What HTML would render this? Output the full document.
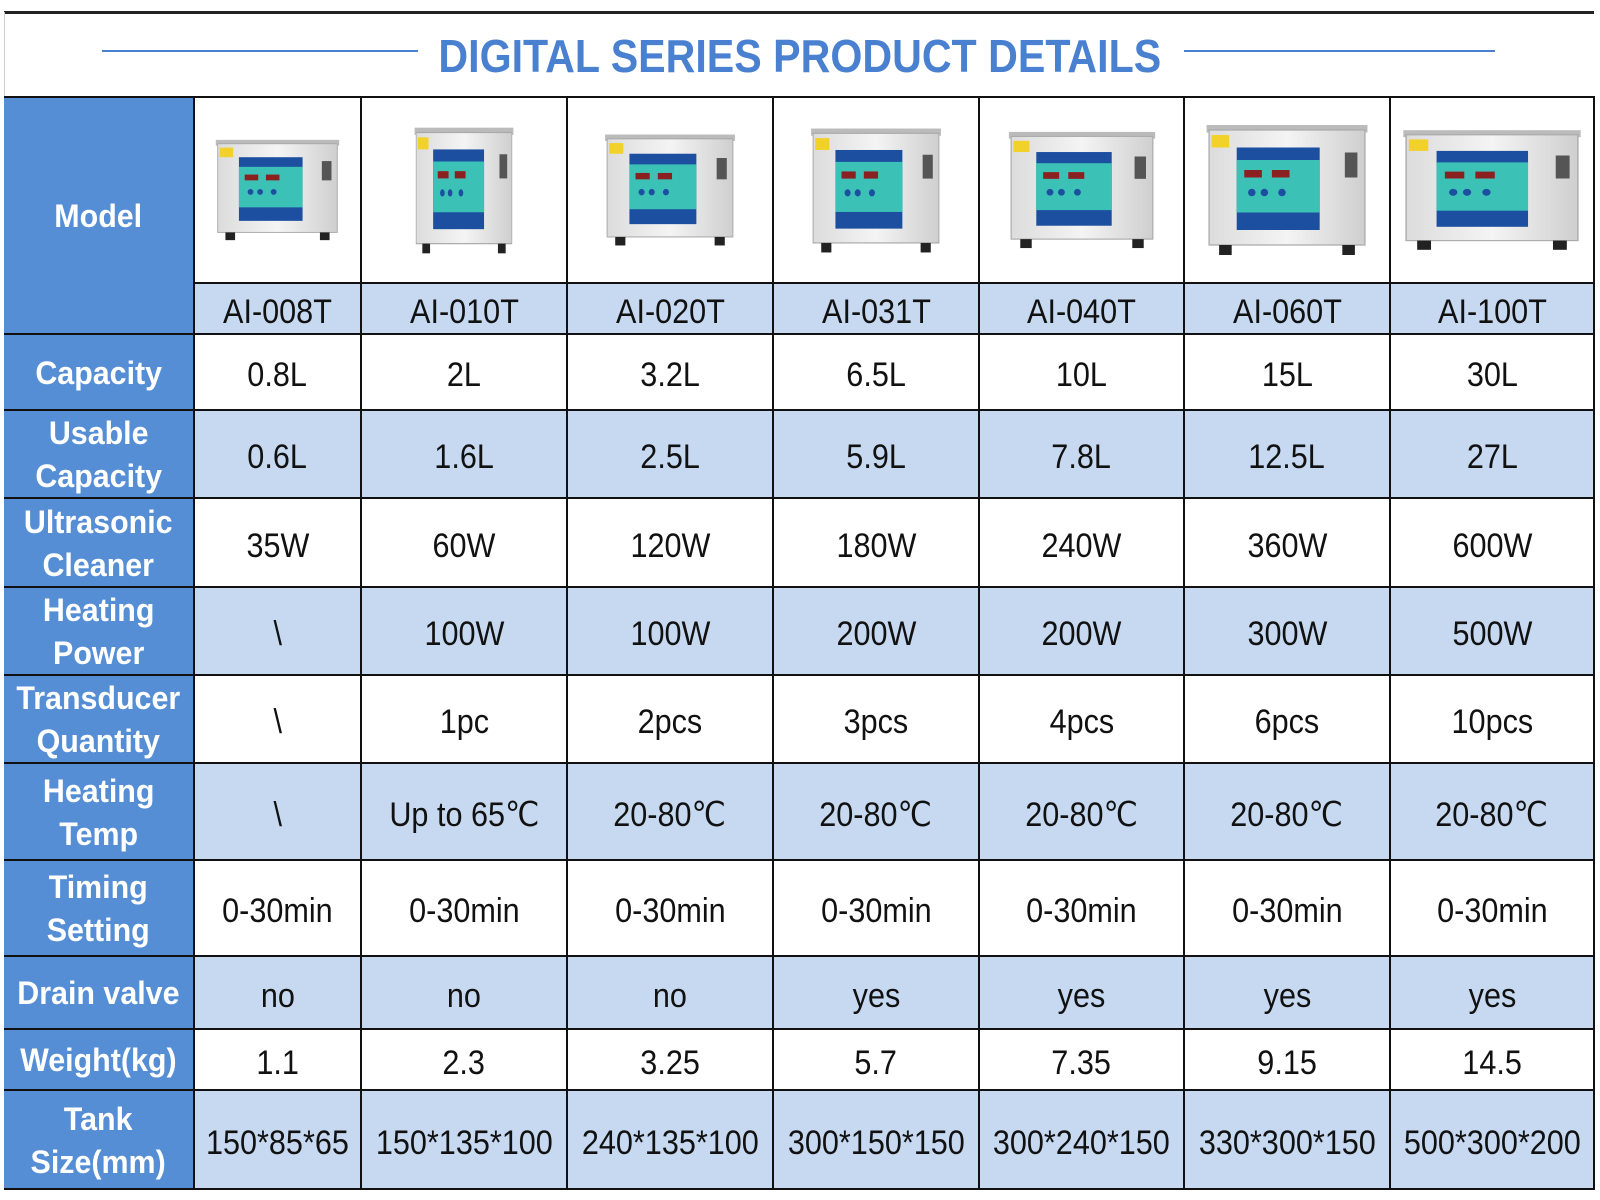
<!DOCTYPE html>
<html><head><meta charset="utf-8">
<style>
body{margin:0;width:1600px;height:1200px;background:#fff;position:relative;overflow:hidden;font-family:"Liberation Sans Narrow","Liberation Sans",sans-serif}
.topline{position:absolute;left:4px;top:11px;width:1590px;height:3px;background:#222}
.leftline{position:absolute;left:4px;top:12px;width:1px;height:86px;background:#ccc}
.hl{position:absolute;top:50px;height:2px;background:#4a80d0}
.title{position:absolute;left:0;width:1600px;top:29px;text-align:center;font:bold 46px "Liberation Sans",sans-serif;color:#4a80d0}
.title span{display:inline-block;transform:scaleX(.895)}
table{position:absolute;left:4px;top:96px;border-collapse:collapse;table-layout:fixed}
td{border:2px solid #111;padding:0;text-align:center;vertical-align:middle;font-family:"Liberation Sans Narrow","Liberation Sans",sans-serif;font-size:34px;line-height:36px;color:#111;overflow:hidden}
td span{display:inline-block;transform:scaleX(.9);white-space:nowrap;position:relative;top:3px}
td.h{background:#558ed5;color:#fff;font-weight:bold;font-size:32px;line-height:43px;border-left:none}
td.h span{transform:scaleX(.95);top:1px}
tr.l td{background:#c6d9f1}
tr.l td.h,tr.w td.h{background:#558ed5}
svg.p{display:block;margin:0 auto}
</style></head><body>
<div class="topline"></div><div class="leftline"></div>
<div class="hl" style="left:102px;width:316px"></div>
<div class="hl" style="left:1184px;width:311px"></div>
<div class="title"><span>DIGITAL SERIES PRODUCT DETAILS</span></div>
<svg width="0" height="0" style="position:absolute">
<defs>
<linearGradient id="g" x1="0" x2="1"><stop offset="0" stop-color="#dcdcdc"/><stop offset=".5" stop-color="#f4f4f4"/><stop offset="1" stop-color="#cfcfcf"/></linearGradient>
<symbol id="tank" viewBox="0 0 140 120">
<rect x="6" y="8" width="128" height="6" fill="#bbb"/>
<rect x="8" y="12" width="124" height="92" fill="url(#g)" stroke="#aaa"/>
<rect x="10" y="16" width="14" height="10" fill="#f2d22a"/>
<rect x="30" y="26" width="66" height="66" fill="#1d4fa0"/>
<rect x="30" y="36" width="66" height="42" fill="#3cc1b6"/>
<rect x="36" y="44" width="14" height="6" fill="#8b2020"/><rect x="58" y="44" width="14" height="6" fill="#8b2020"/>
<circle cx="42" cy="62" r="3" fill="#1d4fa0"/><circle cx="52" cy="62" r="3" fill="#1d4fa0"/><circle cx="66" cy="62" r="3" fill="#1d4fa0"/>
<rect x="116" y="30" width="10" height="20" fill="#555"/>
<rect x="16" y="104" width="10" height="8" fill="#222"/><rect x="114" y="104" width="10" height="8" fill="#222"/>
</symbol>
</defs></svg>
<table>
<colgroup><col style="width:190px"><col style="width:167px"><col style="width:206px"><col style="width:206px"><col style="width:206px"><col style="width:205px"><col style="width:206px"><col style="width:204px"></colgroup>
<tr class="w" style="height:186px"><td class="h" rowspan="2"><span>Model</span></td>
<td><svg class="p" width="135" height="122"><use href="#tank"/></svg></td>
<td><svg class="p" width="108" height="145" viewBox="0 0 140 120" preserveAspectRatio="none"><use href="#tank"/></svg></td>
<td><svg class="p" width="142" height="128" viewBox="0 0 140 120" preserveAspectRatio="none"><use href="#tank"/></svg></td>
<td><svg class="p" width="142" height="143" viewBox="0 0 140 120" preserveAspectRatio="none"><use href="#tank"/></svg></td>
<td><svg class="p" width="160" height="134" viewBox="0 0 140 120" preserveAspectRatio="none"><use href="#tank"/></svg></td>
<td><svg class="p" width="176" height="150" viewBox="0 0 140 120" preserveAspectRatio="none"><use href="#tank"/></svg></td>
<td><svg class="p" width="194" height="138" viewBox="0 0 140 120" preserveAspectRatio="none"><use href="#tank"/></svg></td></tr>
<tr class="l" style="height:51px"><td><span>AI-008T</span></td><td><span>AI-010T</span></td><td><span>AI-020T</span></td><td><span>AI-031T</span></td><td><span>AI-040T</span></td><td><span>AI-060T</span></td><td><span>AI-100T</span></td></tr>
<tr class="w" style="height:76px"><td class="h"><span>Capacity</span></td><td><span>0.8L</span></td><td><span>2L</span></td><td><span>3.2L</span></td><td><span>6.5L</span></td><td><span>10L</span></td><td><span>15L</span></td><td><span>30L</span></td></tr>
<tr class="l" style="height:88px"><td class="h"><span>Usable<br>Capacity</span></td><td><span>0.6L</span></td><td><span>1.6L</span></td><td><span>2.5L</span></td><td><span>5.9L</span></td><td><span>7.8L</span></td><td><span>12.5L</span></td><td><span>27L</span></td></tr>
<tr class="w" style="height:89px"><td class="h"><span>Ultrasonic<br>Cleaner</span></td><td><span>35W</span></td><td><span>60W</span></td><td><span>120W</span></td><td><span>180W</span></td><td><span>240W</span></td><td><span>360W</span></td><td><span>600W</span></td></tr>
<tr class="l" style="height:88px"><td class="h"><span>Heating<br>Power</span></td><td><span>\</span></td><td><span>100W</span></td><td><span>100W</span></td><td><span>200W</span></td><td><span>200W</span></td><td><span>300W</span></td><td><span>500W</span></td></tr>
<tr class="w" style="height:88px"><td class="h"><span>Transducer<br>Quantity</span></td><td><span>\</span></td><td><span>1pc</span></td><td><span>2pcs</span></td><td><span>3pcs</span></td><td><span>4pcs</span></td><td><span>6pcs</span></td><td><span>10pcs</span></td></tr>
<tr class="l" style="height:97px"><td class="h"><span>Heating<br>Temp</span></td><td><span>\</span></td><td><span>Up to 65℃</span></td><td><span>20-80℃</span></td><td><span>20-80℃</span></td><td><span>20-80℃</span></td><td><span>20-80℃</span></td><td><span>20-80℃</span></td></tr>
<tr class="w" style="height:96px"><td class="h"><span>Timing<br>Setting</span></td><td><span>0-30min</span></td><td><span>0-30min</span></td><td><span>0-30min</span></td><td><span>0-30min</span></td><td><span>0-30min</span></td><td><span>0-30min</span></td><td><span>0-30min</span></td></tr>
<tr class="l" style="height:73px"><td class="h"><span>Drain valve</span></td><td><span>no</span></td><td><span>no</span></td><td><span>no</span></td><td><span>yes</span></td><td><span>yes</span></td><td><span>yes</span></td><td><span>yes</span></td></tr>
<tr class="w" style="height:61px"><td class="h"><span>Weight(kg)</span></td><td><span>1.1</span></td><td><span>2.3</span></td><td><span>3.25</span></td><td><span>5.7</span></td><td><span>7.35</span></td><td><span>9.15</span></td><td><span>14.5</span></td></tr>
<tr class="l" style="height:99px"><td class="h"><span>Tank<br>Size(mm)</span></td><td><span>150*85*65</span></td><td><span>150*135*100</span></td><td><span>240*135*100</span></td><td><span>300*150*150</span></td><td><span>300*240*150</span></td><td><span>330*300*150</span></td><td><span>500*300*200</span></td></tr>
</table>
</body></html>
